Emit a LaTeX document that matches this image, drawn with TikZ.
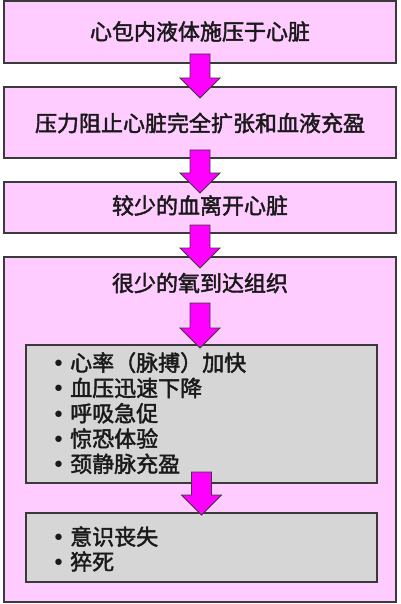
\documentclass[tikz,border=0pt]{standalone}
\usepackage{fontspec}
\setmainfont{Noto Sans CJK SC}
\newfontfamily\medfont{Noto Sans CJK SC}[FakeBold=2]
\newfontfamily\bulfont{DejaVu Sans}
\usetikzlibrary{calc}
\definecolor{pinkfill}{HTML}{FFCCFF}
\definecolor{edgegray}{HTML}{3A3A3A}
\definecolor{grayfill}{HTML}{D6D6D6}
\definecolor{arrowmag}{HTML}{FF00FF}
\definecolor{textcol}{HTML}{1A1A1A}
\tikzset{
  pinkbox/.style={draw=edgegray, line width=2pt, fill=pinkfill, rectangle, outer sep=0pt, inner sep=0pt},
  graybox/.style={draw=edgegray, line width=2pt, fill=grayfill, rectangle, outer sep=0pt, inner sep=0pt},
  title/.style={inner sep=0pt, text=textcol, font=\medfont\fontsize{22}{26}\selectfont},
  item/.style={inner sep=0pt, anchor=base west, text=textcol, font=\medfont\fontsize{22}{26}\selectfont},
  blockarrow/.style={draw=edgegray, line width=0.8pt, fill=arrowmag, line join=miter}
}
\newcommand\bigarrow[2]{%
  \draw[blockarrow] let \p1=(#1), \p2=(#2) in
    (\x1-10pt,\y1) -- (\x1+10pt,\y1) -- (\x1+10pt,\y2+20pt) -- (\x1+20pt,\y2+20pt)
    -- (\x1,\y2) -- (\x1-20pt,\y2+20pt) -- (\x1-10pt,\y2+20pt) -- cycle;}
\newcommand\bul[1]{\makebox[17pt][l]{\hspace{-1pt}\raisebox{-0.5pt}{\bulfont\fontsize{22}{22}\selectfont •}}#1}
\begin{document}
\begin{tikzpicture}[x=1pt,y=-1pt]
\useasboundingbox (0,0) rectangle (400,604);
\fill[white] (0,0) rectangle (400,604);
% boxes
\node[pinkbox, minimum width=392pt, minimum height=62pt] (b1) at (200,32) {};
\node[pinkbox, minimum width=392pt, minimum height=71pt] (b2) at (200,122.5) {};
\node[pinkbox, minimum width=392pt, minimum height=51pt] (b3) at (200,207.5) {};
\node[pinkbox, minimum width=392pt, minimum height=345pt] (b4) at (200,429.5) {};
\node[graybox, minimum width=351pt, minimum height=138pt] (g1) at (201.5,414) {};
\node[graybox, minimum width=351pt, minimum height=69pt] (g2) at (201.5,547.5) {};
% titles
\node[title] (t1) at (200,31.5) {心包内液体施压于心脏};
\node[title] (t2) at (200,123) {压力阻止心脏完全扩张和血液充盈};
\node[title] (t3) at (200,205.5) {较少的血离开心脏};
\node[title] (t4) at (200,283) {很少的氧到达组织};
% bullet items
\node[item] (i1) at (53,371) {\bul{心率（脉搏）加快}};
\node[item] (i2) at (53,396.3) {\bul{血压迅速下降}};
\node[item] (i3) at (53,421.6) {\bul{呼吸急促}};
\node[item] (i4) at (53,446.9) {\bul{惊恐体验}};
\node[item] (i5) at (53,472.2) {\bul{颈静脉充盈}};
\node[item] (j1) at (53,545) {\bul{意识丧失}};
\node[item] (j2) at (53,570) {\bul{猝死}};
% arrows
\bigarrow{$(b1.south)+(0,-9)$}{$(b2.north)+(0,11)$}
\bigarrow{$(b2.south)+(0,-8)$}{$(b3.north)+(0,11)$}
\bigarrow{$(b3.south)+(0,-8)$}{$(b4.north)+(0,11)$}
\bigarrow{$(t4.center)+(0,20)$}{$(g1.north)+(0,3)$}
\bigarrow{$(g1.south)+(0,-11)$}{$(g2.north)+(0,2)$}
\end{tikzpicture}
\end{document}
